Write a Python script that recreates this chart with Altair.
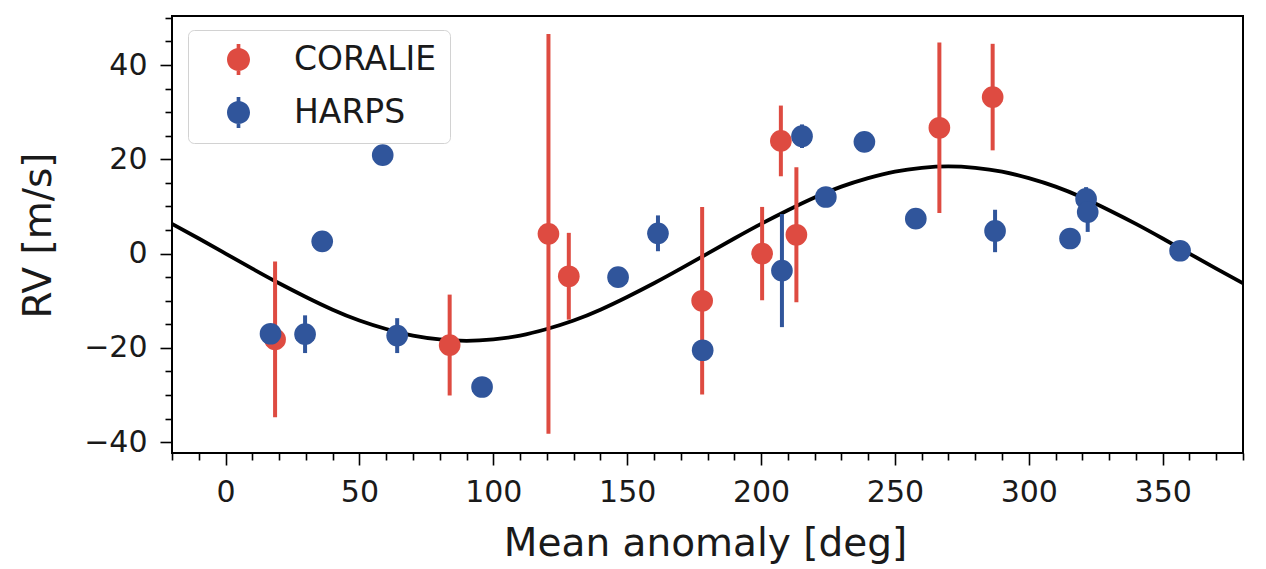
import altair as alt
import pandas as pd

FONT = "DejaVu Sans"
TXT = "#1a1a1a"
RED = "#DE4B41"
BLUE = "#30559B"

# ---- model curve ----
model_phase = [-20, -10, 0, 10, 20, 30, 40, 50, 60, 70, 80, 90, 100, 110, 120, 130,
               140, 150, 160, 170, 180, 190, 200, 210, 220, 230, 240, 250, 260, 270,
               280, 290, 300, 310, 320, 330, 340, 350, 360, 370, 380]
model_rv = [6.3, 3.2, 0.0, -3.2, -6.3, -9.2, -11.9, -14.2, -16.0, -17.4, -18.2, -18.5,
            -18.2, -17.4, -16.0, -14.2, -11.9, -9.2, -6.3, -3.2, 0.0, 3.2, 6.3, 9.2,
            11.9, 14.2, 16.0, 17.4, 18.2, 18.5, 18.2, 17.4, 16.0, 14.2, 11.9, 9.2,
            6.3, 3.2, 0.0, -3.2, -6.3]

# ---- CORALIE ----
cor_phase = [18.5, 83.7, 120.6, 128.2, 178.0, 200.4, 207.4, 213.2, 266.6, 286.5]
cor_rv = [-18.2, -19.4, 4.2, -4.8, -10.0, 0.0, 23.9, 4.0, 26.7, 33.2]
cor_err = [16.5, 10.7, 42.4, 9.2, 19.9, 9.9, 7.5, 14.3, 18.1, 11.3]

# ---- HARPS ----
har_phase = [16.8, 29.7, 36.1, 58.7, 64.1, 95.8, 146.6, 161.5, 178.2, 207.8, 215.3,
             224.2, 238.6, 257.8, 287.4, 315.4, 321.4, 322.0, 356.5]
har_rv = [-17.0, -17.1, 2.6, 20.9, -17.4, -28.3, -5.0, 4.3, -20.5, -3.6, 24.9,
          12.0, 23.7, 7.4, 4.8, 3.2, 11.6, 8.8, 0.6]
har_err = [1.5, 4.0, 2.0, 2.0, 3.7, 1.5, 1.5, 3.8, 1.5, 12.0, 2.5,
           1.5, 1.5, 1.5, 4.5, 2.0, 2.5, 4.2, 1.5]

instruments = ["CORALIE", "HARPS"]
inst_colors = [RED, BLUE]

x_ticks = list(range(-20, 381, 10))
y_ticks = list(range(-40, 51, 5))

model = pd.DataFrame({"phase": model_phase, "rv": model_rv})
obs = pd.concat([
    pd.DataFrame({"phase": cor_phase, "rv": cor_rv, "err": cor_err, "inst": "CORALIE"}),
    pd.DataFrame({"phase": har_phase, "rv": har_rv, "err": har_err, "inst": "HARPS"}),
], ignore_index=True)

x_scale = alt.Scale(domain=[-20, 380], nice=False, zero=False)
y_scale = alt.Scale(domain=[-42.3, 50.4], nice=False, zero=False)

x_axis = alt.Axis(
    values=x_ticks, title="Mean anomaly [deg]", grid=False, domain=False,
    labelExpr="datum.value % 50 === 0 ? datum.label : ''",
    tickSize={"condition": {"test": "datum.value % 50 === 0", "value": 12}, "value": 7},
    tickColor="black", tickWidth=1.6, labelPadding=12, labelOverlap=False, labelFlush=False,
    labelFontSize=30, labelFont=FONT, labelColor=TXT,
    titleFontSize=39, titleFont=FONT, titleColor=TXT, titleFontWeight="normal",
    titleX=533, titleY=102, titleBaseline="alphabetic", titleAlign="center",
)
y_axis = alt.Axis(
    values=y_ticks, title="RV [m/s]", grid=False, domain=False,
    labelExpr="datum.value % 20 === 0 ? datum.label : ''",
    tickSize={"condition": {"test": "datum.value % 20 === 0", "value": 12}, "value": 7},
    tickColor="black", tickWidth=1.6, labelPadding=13, labelOverlap=False, labelFlush=False,
    labelFontSize=30, labelFont=FONT, labelColor=TXT,
    titleFontSize=39, titleFont=FONT, titleColor=TXT, titleFontWeight="normal",
    titleX=-122, titleY=219, titleBaseline="alphabetic", titleAlign="center", titleAngle=270,
)

SYMBOL = ("M -1 0 A 1 1 0 1 1 1 0 A 1 1 0 1 1 -1 0 Z "
          "M -0.16 -1.35 L 0.16 -1.35 L 0.16 1.35 L -0.16 1.35 Z")

color_scale = alt.Scale(domain=instruments, range=inst_colors)
legend = alt.Legend(
    title=None, orient="none", legendX=16, legendY=14,
    symbolType=SYMBOL, symbolSize=529, symbolStrokeWidth=0, symbolOpacity=1,
    labelFontSize=33, labelFont=FONT, labelColor=TXT,
    padding=13, rowPadding=19, symbolOffset=21, labelOffset=39,
    fillColor="white", strokeColor="#d2d2d2", cornerRadius=6,
)

X = alt.X("phase:Q", scale=x_scale, axis=x_axis)

line = alt.Chart(model).mark_line(color="black", strokeWidth=3.8, interpolate="natural").encode(
    x=X, y=alt.Y("rv:Q", scale=y_scale, axis=y_axis)
)

layers = [line]
for inst, col in zip(instruments, inst_colors):
    base = alt.Chart(obs).transform_filter(alt.datum.inst == inst)
    bars = base.transform_calculate(
        lo="datum.rv - datum.err", hi="datum.rv + datum.err"
    ).mark_rule(strokeWidth=4, color=col).encode(
        x=X,
        y=alt.Y("lo:Q", scale=y_scale, axis=y_axis),
        y2="hi:Q",
    )
    pts = base.mark_circle(size=470, opacity=1).encode(
        x=X,
        y=alt.Y("rv:Q", scale=y_scale, axis=y_axis),
        color=alt.Color("inst:N", scale=color_scale, legend=legend),
    )
    layers += [bars, pts]

chart = alt.layer(*layers).properties(
    width=1071, height=437,
    background="white",
    autosize=alt.AutoSizeParams(type="none"),
    padding={"left": 164, "top": 8, "right": 15, "bottom": 112},
).configure_view(stroke="black", strokeWidth=2, fill="white")

chart.save("out.html", embed_options={"renderer": "svg", "actions": False})
